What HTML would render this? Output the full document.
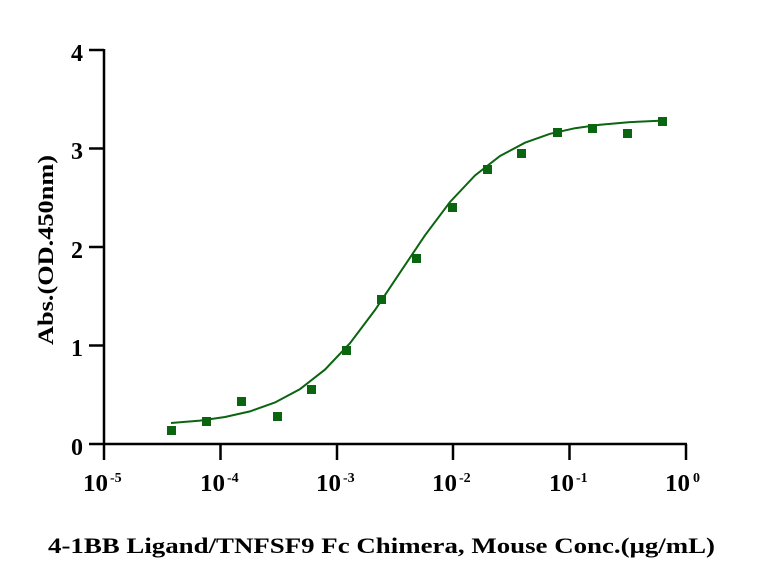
<!DOCTYPE html>
<html><head><style>body{margin:0;background:#fff}</style></head><body>
<svg width="767" height="579" viewBox="0 0 767 579" xmlns="http://www.w3.org/2000/svg" font-family="Liberation Serif, serif" font-weight="bold">
<rect width="767" height="579" fill="#fff"/>
<g stroke="#000" stroke-width="2.5" fill="none">
<line x1="104" y1="49" x2="104" y2="445"/>
<line x1="89" y1="444" x2="687" y2="444"/>
<line x1="89" y1="345.5" x2="104" y2="345.5"/>
<line x1="89" y1="247" x2="104" y2="247"/>
<line x1="89" y1="148.5" x2="104" y2="148.5"/>
<line x1="89" y1="50" x2="104" y2="50"/>
<line x1="104" y1="444" x2="104" y2="460"/>
<line x1="220.5" y1="444" x2="220.5" y2="460"/>
<line x1="337" y1="444" x2="337" y2="460"/>
<line x1="453" y1="444" x2="453" y2="460"/>
<line x1="569.5" y1="444" x2="569.5" y2="460"/>
<line x1="686" y1="444" x2="686" y2="460"/>
</g>
<g font-size="24" text-anchor="end">
<text x="83" y="61">4</text><text x="83" y="159">3</text><text x="83" y="258">2</text><text x="83" y="356">1</text><text x="83" y="455">0</text>
</g>
<g font-size="24">
<text x="83" y="491" textLength="25" lengthAdjust="spacingAndGlyphs">10</text><text x="110" y="482" font-size="14">-5</text>
<text x="200" y="491" textLength="25" lengthAdjust="spacingAndGlyphs">10</text><text x="227" y="482" font-size="14">-4</text>
<text x="316" y="491" textLength="25" lengthAdjust="spacingAndGlyphs">10</text><text x="343" y="482" font-size="14">-3</text>
<text x="432" y="491" textLength="25" lengthAdjust="spacingAndGlyphs">10</text><text x="459" y="482" font-size="14">-2</text>
<text x="549" y="491" textLength="25" lengthAdjust="spacingAndGlyphs">10</text><text x="576" y="482" font-size="14">-1</text>
<text x="665" y="491" textLength="25" lengthAdjust="spacingAndGlyphs">10</text><text x="693" y="482" font-size="14">0</text>
</g>
<text x="48" y="553" font-size="22" textLength="667" lengthAdjust="spacingAndGlyphs">4-1BB Ligand/TNFSF9 Fc Chimera, Mouse Conc.(μg/mL)</text>
<text transform="translate(53,345) rotate(-90)" font-size="22" textLength="190" lengthAdjust="spacingAndGlyphs">Abs.(OD.450nm)</text>
<path fill="none" stroke="#0b6410" stroke-width="2" d="M171,423 L200,420.6 L225,417 L250,411.4 L275,402.5 L300,389.1 L325,369.6 L350,343.2 L375,310 L400,272.6 L425,235.3 L450,202 L475,175.5 L500,156 L525,142.7 L550,133.8 L575,128.2 L600,124.7 L630,122.1 L662,120.6"/>
<g fill="#0b6410">
<rect x="167" y="426" width="9" height="9"/>
<rect x="202" y="417" width="9" height="9"/>
<rect x="237" y="397" width="9" height="9"/>
<rect x="273" y="412" width="9" height="9"/>
<rect x="307" y="385" width="9" height="9"/>
<rect x="342" y="346" width="9" height="9"/>
<rect x="377" y="295" width="9" height="9"/>
<rect x="412" y="254" width="9" height="9"/>
<rect x="448" y="203" width="9" height="9"/>
<rect x="483" y="165" width="9" height="9"/>
<rect x="517" y="149" width="9" height="9"/>
<rect x="553" y="128" width="9" height="9"/>
<rect x="588" y="124" width="9" height="9"/>
<rect x="623" y="129" width="9" height="9"/>
<rect x="658" y="117" width="9" height="9"/>
</g>
</svg>
</body></html>
